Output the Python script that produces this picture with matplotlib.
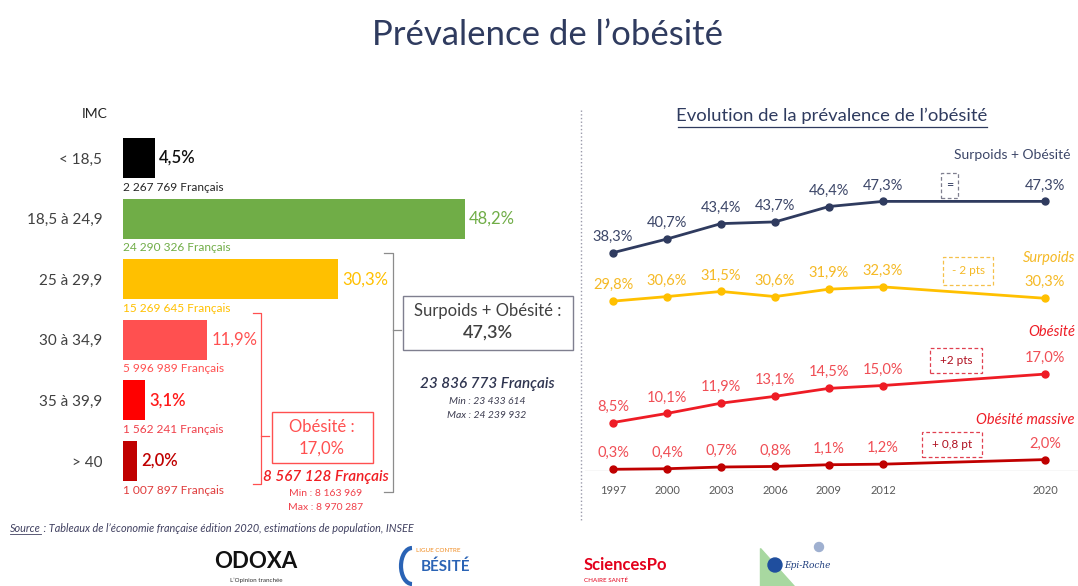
import matplotlib.pyplot as plt
from matplotlib.lines import Line2D
from matplotlib.patches import Rectangle, Polygon, Ellipse, Arc

W, H = 1078, 586

# ---- data: left panel (IMC distribution, 2020) ----
imc_labels = ['< 18,5', '18,5 à 24,9', '25 à 29,9', '30 à 34,9', '35 à 39,9', '> 40']
imc_share = [4.5, 48.2, 30.3, 11.9, 3.1, 2.0]
imc_count = ['2 267 769', '24 290 326', '15 269 645', '5 996 989', '1 562 241', '1 007 897']

# ---- data: right panel (evolution) ----
years = ['1997', '2000', '2003', '2006', '2009', '2012', '2020']
surpoids_obesite = [38.3, 40.7, 43.4, 43.7, 46.4, 47.3, 47.3]
surpoids = [29.8, 30.6, 31.5, 30.6, 31.9, 32.3, 30.3]
obesite = [8.5, 10.1, 11.9, 13.1, 14.5, 15.0, 17.0]
obesite_massive = [0.3, 0.4, 0.7, 0.8, 1.1, 1.2, 2.0]

# colours
NAVY = '#2F3B5F'
NAVY_TXT = '#3C4668'
DGRAY = '#404040'
bar_colors = ['#000000', '#70AD47', '#FFC000', '#FF5050', '#FF0000', '#C00000']
lbl_colors = ['#111111', '#70AD47', '#FFC000', '#FF5050', '#FF1A1A', '#C00000']
cnt_colors = ['#262626', '#70AD47', '#FFC000', '#FF5050', '#F0404A', '#E03C3C']

plt.rcParams['font.family'] = ['Lato', 'DejaVu Sans']


def pct(v):
    return f'{v:.1f}'.replace('.', ',') + '%'


def fx(x):
    return x / W


def fy(y):
    return 1 - y / H


fig = plt.figure(figsize=(W / 100, H / 100), dpi=100)


def line_px(xs, ys, color, lw=1.0, ls='-'):
    fig.add_artist(Line2D([fx(x) for x in xs], [fy(y) for y in ys],
                          color=color, lw=lw, ls=ls, transform=fig.transFigure))


def box_px(x0, y0, x1, y1, color, lw=1.0, ls='-'):
    fig.add_artist(Rectangle((fx(x0), fy(y1)), fx(x1) - fx(x0), fy(y0) - fy(y1),
                             fill=False, ec=color, lw=lw, ls=ls, transform=fig.transFigure))


def text_px(x, y, s, **kw):
    kw.setdefault('ha', 'center')
    kw.setdefault('va', 'center')
    return fig.text(fx(x), fy(y), s, **kw)


# ---- titles ----
text_px(548, 35, 'Prévalence de l\u2019obésité', fontsize=25, color=NAVY)
text_px(832, 116, 'Evolution de la prévalence de l\u2019obésité', fontsize=13.3, color=NAVY)
line_px([678, 987], [127, 127], NAVY, lw=0.9)

# separator
line_px([581, 581], [110, 522], '#9A9AAA', lw=1.0, ls=':')

# ---- left: horizontal bars ----
ax1 = fig.add_axes([fx(123), fy(511), fx(570) - fx(123), fy(108) - fy(511)])
rows = range(len(imc_share))
ax1.barh(rows, imc_share, height=0.66, color=bar_colors)
ax1.set_xlim(0, (570 - 123) / 7.095)
ax1.set_ylim(5.825, -0.825)
ax1.set_yticks(list(rows))
ax1.set_yticklabels(imc_labels, fontsize=11, color=DGRAY)
ax1.tick_params(axis='y', length=0, pad=15)
ax1.set_xticks([])
for s in ax1.spines.values():
    s.set_visible(False)
ax1.patch.set_alpha(0)

for i, (v, c) in enumerate(zip(imc_share, imc_count)):
    w = 'semibold' if v < 5 else 'normal'
    ax1.annotate(pct(v), xy=(v, i), xytext=(3, 0), textcoords='offset points',
                 va='center', ha='left', fontsize=12, color=lbl_colors[i], fontweight=w)
    ax1.annotate(c + ' Français', xy=(0, i), xytext=(0, -21), textcoords='offset points',
                 va='center', ha='left', fontsize=8.6, color=cnt_colors[i])

text_px(95, 114, 'IMC', fontsize=10, color='#222222')

# red bracket (obésité)
RB = '#FF5050'
line_px([253, 261, 261, 253], [313, 313, 484, 484], RB, lw=0.9)
line_px([261, 269], [436, 436], RB, lw=0.9)
box_px(272, 412, 373, 463, RB, lw=1.0)
text_px(322, 427, 'Obésité :', fontsize=12, color=RB)
text_px(322, 449, pct(obesite[-1]), fontsize=12, color=RB)
text_px(326, 477, '8 567 128 Français', fontsize=11, style='italic', fontweight='semibold',
        color='#F01E23')
text_px(326, 493, 'Min : 8 163 969', fontsize=7.5, color='#F0404A')
text_px(326, 508, 'Max : 8 970 287', fontsize=7.5, color='#F0404A')

# gray bracket (surpoids + obésité)
GB = '#8C8C8C'
line_px([384, 393, 393, 384], [253, 253, 492, 492], GB, lw=0.9)
line_px([393, 401], [330, 330], GB, lw=0.9)
box_px(403, 296, 573, 350, '#7F7F8F', lw=1.0)
text_px(488, 311, 'Surpoids + Obésité :', fontsize=12, color=DGRAY)
text_px(488, 333, pct(surpoids_obesite[-1]), fontsize=13, color=DGRAY, fontweight='semibold')
text_px(487, 384, '23 836 773 Français', fontsize=11, style='italic', fontweight='semibold',
        color='#2F3550')
text_px(487, 401, 'Min : 23 433 614', fontsize=7.5, style='italic', color='#3C3C50')
text_px(487, 416, 'Max : 24 239 932', fontsize=7.5, style='italic', color='#3C3C50')

# ---- right: lines ----
slots = [0, 1, 2, 3, 4, 5, 8]
ax2 = fig.add_axes([fx(585), fy(471), fx(1078) - fx(585), fy(140) - fy(471)])
ax2.set_xlim((585 - 613) / 54, (1078 - 613) / 54)
ax2.set_ylim(0, (471 - 140) / 5.7)
ax2.patch.set_alpha(0)
for s in ax2.spines.values():
    s.set_visible(False)
ax2.axhline(0, color='#D9D9D9', lw=1.0)
ax2.set_yticks([])
ax2.set_xticks(slots)
ax2.set_xticklabels(years, fontsize=8, color='#595959')
ax2.tick_params(axis='x', length=0, pad=10)

series = [
    (surpoids_obesite, NAVY, NAVY_TXT),
    (surpoids, '#FFC000', '#F5B925'),
    (obesite, '#EE1C25', '#F04E55'),
    (obesite_massive, '#C00000', '#F04E55'),
]
for vals, lc, tc in series:
    ax2.plot(slots, vals, color=lc, lw=2.0, marker='o', markersize=5, clip_on=False)
    for x, v in zip(slots, vals):
        ax2.annotate(pct(v), xy=(x, v), xytext=(0, 11.5), textcoords='offset points',
                     ha='center', va='center', fontsize=10.5, color=tc)

# series names
text_px(1071, 155, 'Surpoids + Obésité', fontsize=10, color=NAVY_TXT, ha='right')
text_px(1075, 258, 'Surpoids', fontsize=10.5, style='italic', color='#F5B925', ha='right')
text_px(1075, 332, 'Obésité', fontsize=10.5, style='italic', color='#EE1C25', ha='right')
text_px(1075, 420, 'Obésité massive', fontsize=10.5, style='italic', color='#EE1C25', ha='right')

# change boxes
box_px(941, 173, 958, 198, '#7F7F8F', lw=0.9, ls=(0, (3, 2)))
text_px(949.5, 185, '=', fontsize=9, color=NAVY_TXT)
box_px(943, 257, 993, 285, '#F5C04A', lw=0.9, ls=(0, (3, 2)))
text_px(968, 271, '- 2 pts', fontsize=8.5, color='#F5B925')
box_px(930, 348, 982, 373, '#E04050', lw=0.9, ls=(0, (3, 2)))
text_px(956, 360, '+2 pts', fontsize=8.5, color='#B01020')
box_px(922, 432, 982, 457, '#E04050', lw=0.9, ls=(0, (3, 2)))
text_px(952, 445, '+ 0,8 pt', fontsize=8.5, color='#B01020')

# ---- source ----
src = text_px(10, 528, 'Source', fontsize=7.8, style='italic', color='#404060', ha='left')
fig.canvas.draw()
bb = src.get_window_extent()
src_end = bb.x1
line_px([10, src_end], [534, 534], '#404060', lw=0.6)
text_px(src_end, 528, ' : Tableaux de l\u2019économie française édition 2020, estimations de population, INSEE',
        fontsize=7.8, style='italic', color='#404060', ha='left')

# ---- partner logos (text approximations) ----
text_px(256, 562, 'ODOXA', fontsize=16, fontweight='bold', color='#111111')
text_px(256, 580, 'L\u2019Opinion tranchée', fontsize=4.5, color='#333333')
fig.add_artist(Arc((fx(412), fy(566)), fx(22), 36 / H, theta1=90, theta2=270,
                   color='#2A63B5', lw=3, transform=fig.transFigure))
text_px(446, 567, 'BÉSITÉ', fontsize=11, fontweight='bold', color='#2A63B5')
text_px(438, 550, 'LIGUE CONTRE', fontsize=4.5, color='#F08A1E')
text_px(584, 565, 'SciencesPo', fontsize=12, fontweight='bold', color='#E3001B', ha='left')
text_px(584, 580, 'CHAIRE SANTÉ', fontsize=4.5, color='#E3001B', ha='left')
fig.add_artist(Polygon([(fx(760), fy(548)), (fx(760), fy(586)), (fx(794), fy(586))],
                       closed=True, color='#A8D8A0', transform=fig.transFigure))
fig.add_artist(Ellipse((fx(775), fy(565)), fx(14), 14 / H, color='#1F4E9E',
                       transform=fig.transFigure))
text_px(784, 565, 'Epi-Roche', fontsize=6.5, style='italic', family='DejaVu Serif',
        color='#1F3E7E', ha='left')
fig.add_artist(Ellipse((fx(819), fy(547)), fx(9), 9 / H, color='#9FB0D0',
                       transform=fig.transFigure))

fig.savefig('out.png', dpi=100)
